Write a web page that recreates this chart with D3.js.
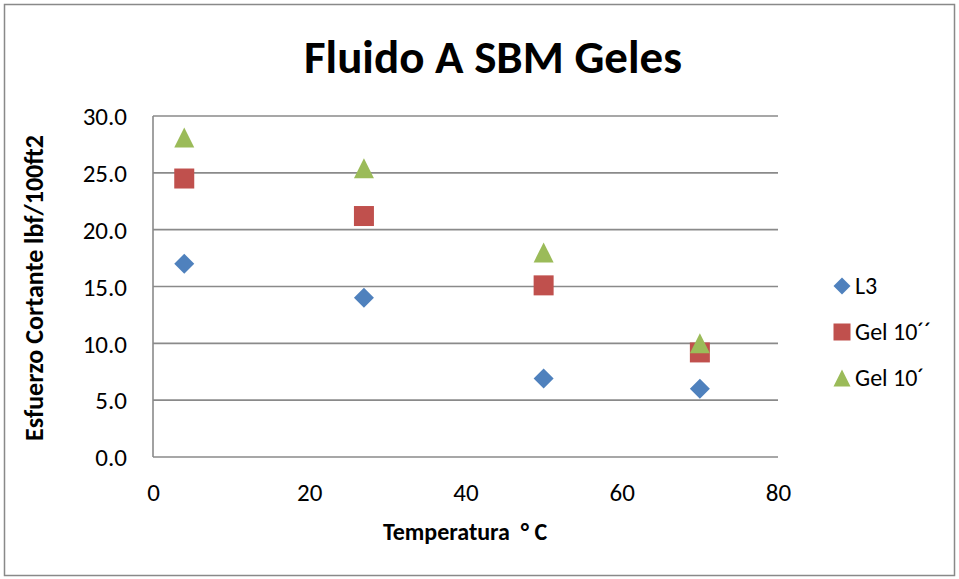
<!DOCTYPE html>
<html>
<head>
<meta charset="utf-8">
<script src="https://cdn.jsdelivr.net/npm/d3@7"></script>
<style>
  body { margin: 0; background: #fff; }
  text { font-family: Carlito, Lato, "Open Sans", sans-serif; fill: #000; }
</style>
</head>
<body>
<div id="chart"></div>
<script>
// data
var temps = [4, 27, 50, 70];
var l3 = [17.0, 14.0, 6.9, 6.0];
var gel10s = [24.5, 21.2, 15.1, 9.2];
var gel10m = [28.1, 25.4, 18.0, 10.0];
var seriesNames = ["L3", "Gel 10\u00b4\u00b4", "Gel 10\u00b4"];
var yTicks = [0, 5, 10, 15, 20, 25, 30];
var xTicks = [0, 20, 40, 60, 80];

var W = 959, H = 579;
var margin = {top: 116, right: 181, bottom: 122, left: 153},
  width = W - margin.left - margin.right,
  height = H - margin.top - margin.bottom;

var svg = d3.select("#chart").append("svg")
  .attr("width", W).attr("height", H);

// outer border
svg.append("rect")
  .attr("x", 4.5).attr("y", 4.5)
  .attr("width", W - 9).attr("height", H - 8)
  .attr("fill", "none").attr("stroke", "#898989").attr("stroke-width", 1.5);

svg.append("text")
  .attr("x", 493).attr("y", 73)
  .attr("text-anchor", "middle")
  .style("font-size", "47px").style("font-weight", "bold")
  .text("Fluido A SBM Geles");

var g = svg.append("g")
  .attr("transform", "translate(" + margin.left + "," + margin.top + ")");

var x = d3.scaleLinear().domain([0, 80]).range([0, width]);
var y = d3.scaleLinear().domain([0, 30]).range([height, 0]);

// gridlines
g.selectAll(".grid")
  .data(yTicks)
  .enter().append("line")
    .attr("x1", 0).attr("x2", width)
    .attr("y1", d => y(d)).attr("y2", d => y(d))
    .attr("stroke", "#8a8a8a").attr("stroke-width", 1.6);

g.append("line")
  .attr("x1", 0).attr("x2", 0).attr("y1", 0).attr("y2", height)
  .attr("stroke", "#8a8a8a").attr("stroke-width", 1.6);

// y axis labels
var yAxis = g.append("g")
  .call(d3.axisLeft(y).tickValues(yTicks).tickFormat(d3.format(".1f")).tickSize(0).tickPadding(26));
yAxis.select(".domain").remove();
yAxis.selectAll("text").style("font-size", "25px").attr("dy", "0.35em");

// x axis labels
var xAxis = g.append("g")
  .attr("transform", "translate(0," + height + ")")
  .call(d3.axisBottom(x).tickValues(xTicks).tickFormat(d3.format("d")).tickSize(0).tickPadding(26));
xAxis.select(".domain").remove();
xAxis.selectAll("text").style("font-size", "25px");

svg.append("text")
  .attr("x", 465).attr("y", 540)
  .attr("text-anchor", "middle")
  .style("font-size", "24px").style("font-weight", "bold")
  .style("white-space", "pre")
  .text("Temperatura  \u00b0 C");

svg.append("text")
  .attr("transform", "translate(43,288)rotate(-90)")
  .attr("text-anchor", "middle")
  .style("font-size", "26px").style("font-weight", "bold")
  .text("Esfuerzo Cortante lbf/100ft2");

var colors = ["#4F81BD", "#C0504D", "#9BBB59"];

function marker(sel, k) {
  if (k === 0) {
    sel.append("path").attr("d", "M0,-10L10,0L0,10L-10,0Z").attr("fill", colors[0]);
  } else if (k === 1) {
    sel.append("rect").attr("x", -10).attr("y", -10).attr("width", 20).attr("height", 20).attr("fill", colors[1]);
  } else {
    sel.append("path").attr("d", "M0,-10L10,10L-10,10Z").attr("fill", colors[2]);
  }
}

var series = [l3, gel10s, gel10m];
series.forEach(function(vals, k) {
  g.selectAll(".pt" + k)
    .data(temps.map((t, i) => [t, vals[i]]))
    .enter().append("g")
      .attr("transform", d => "translate(" + x(d[0]) + "," + y(d[1]) + ")")
      .each(function() { marker(d3.select(this), k); });
});

// legend
var legend = svg.append("g").attr("transform", "translate(842,286)");
seriesNames.forEach(function(name, k) {
  var row = legend.append("g").attr("transform", "translate(0," + (k * 46) + ")");
  var m = row.append("g").attr("transform", "scale(0.85)");
  marker(m, k);
  row.append("text").attr("x", 13).attr("dy", "0.35em")
    .style("font-size", "24px").text(name);
});
</script>
</body>
</html>
